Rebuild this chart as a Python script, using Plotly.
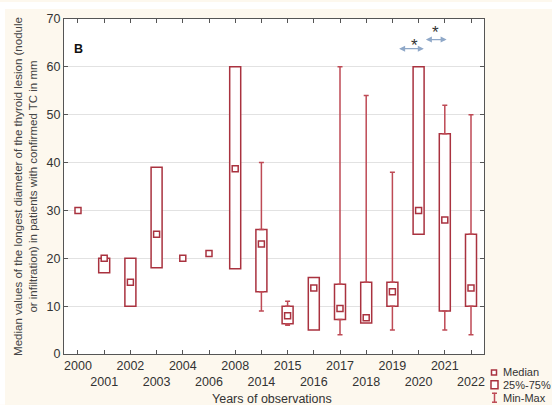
import plotly.graph_objects as go

# Years of observation (categories along the x axis)
years = ["2000", "2001", "2002", "2003", "2004", "2006", "2008", "2014",
         "2015", "2016", "2017", "2018", "2019", "2020", "2021", "2022"]

# Longest lesion diameter in mm per year
median = [30, 20, 15, 25, 20, 21, 38.7, 23, 8, 13.8, 9.5, 7.6, 13, 30, 28, 13.8]
q1 = [None, 17, 10, 18, None, None, 17.8, 13, 6.3, 5, 7.2, 6.5, 10, 25, 9, 10]
q3 = [None, 20, 20, 39, None, None, 60, 26, 10, 16, 14.6, 15, 15, 60, 46, 25]
vmin = [None, 17, 10, 18, None, None, 17.8, 9, 6, 5, 4, 6.5, 5, 25, 5, 4]
vmax = [None, 20, 20, 39, None, None, 60, 40, 11, 16, 60, 54, 38, 60, 52, 50]

y_ticks = [0, 10, 20, 30, 40, 50, 60, 70]

BOX_RED = "#A9323F"
WHISK_RED = "#BE4A55"
FONT = "Arial, Liberation Sans, sans-serif"

idx = list(range(len(years)))

# Interquartile boxes
box_h = [None if a is None else b - a for a, b in zip(q1, q3)]

# Whiskers: upper from Q3 to max, lower from Q1 to min
up_y, up_e, lo_y, lo_e = [], [], [], []
for a, b, lo, hi in zip(q1, q3, vmin, vmax):
    if b is not None and hi > b:
        up_y.append(b); up_e.append(hi - b)
    else:
        up_y.append(None); up_e.append(0)
    if a is not None and lo < a:
        lo_y.append(a); lo_e.append(a - lo)
    else:
        lo_y.append(None); lo_e.append(0)

fig = go.Figure()

fig.add_trace(go.Bar(
    x=idx, y=box_h, base=q1, width=0.42,
    marker=dict(color="white", line=dict(color=BOX_RED, width=1.5)),
    showlegend=False, hoverinfo="skip",
))

fig.add_trace(go.Scatter(
    x=idx, y=up_y, mode="markers", marker=dict(opacity=0, size=1),
    error_y=dict(type="data", symmetric=False, array=up_e,
                 arrayminus=[0] * len(idx), color=WHISK_RED,
                 thickness=1.5, width=2.5),
    showlegend=False, hoverinfo="skip",
))
fig.add_trace(go.Scatter(
    x=idx, y=lo_y, mode="markers", marker=dict(opacity=0, size=1),
    error_y=dict(type="data", symmetric=False, array=[0] * len(idx),
                 arrayminus=lo_e, color=WHISK_RED,
                 thickness=1.5, width=2.5),
    showlegend=False, hoverinfo="skip",
))

fig.add_trace(go.Scatter(
    x=idx, y=median, mode="markers",
    marker=dict(symbol="square", size=6, color="white",
                line=dict(color=BOX_RED, width=1.5)),
    showlegend=False,
))

# Alternate tick labels between two rows
tick_text = [y if i % 2 == 0 else "<br>" + y for i, y in enumerate(years)]

W, H = 552, 405
L, R, T, B = 64, 68, 17, 51
pw, ph = W - L - R, H - T - B


def px(x):
    return (x - L) / pw


def py(y):
    return (H - B - y) / ph


shapes = [
    # thin white margin at the outer top and left edges
    dict(type="rect", xref="paper", yref="paper", x0=px(0), x1=px(5),
         y0=py(H), y1=py(0), fillcolor="white", line=dict(width=0), layer="below"),
    dict(type="rect", xref="paper", yref="paper", x0=px(0), x1=px(W),
         y0=py(7), y1=py(0), fillcolor="white", line=dict(width=0), layer="below"),
    # legend symbols
    dict(type="rect", xref="paper", yref="paper", x0=px(491.5), x1=px(496.5),
         y0=py(375.2), y1=py(370.2), fillcolor="white",
         line=dict(color=BOX_RED, width=1.5)),
    dict(type="rect", xref="paper", yref="paper", x0=px(491), x1=px(498),
         y0=py(389), y1=py(381), fillcolor="white",
         line=dict(color=BOX_RED, width=1.5)),
    dict(type="line", xref="paper", yref="paper", x0=px(494.5), x1=px(494.5),
         y0=py(403), y1=py(393), line=dict(color=WHISK_RED, width=1.5)),
    dict(type="line", xref="paper", yref="paper", x0=px(492), x1=px(497),
         y0=py(393.5), y1=py(393.5), line=dict(color=WHISK_RED, width=1.5)),
    dict(type="line", xref="paper", yref="paper", x0=px(492), x1=px(497),
         y0=py(402.5), y1=py(402.5), line=dict(color=WHISK_RED, width=1.5)),
]

annotations = [
    dict(text="<b>B</b>", xref="paper", yref="paper", x=px(71.5), y=py(47),
         xanchor="left", yanchor="middle", showarrow=False,
         font=dict(size=12.5, color="#111", family=FONT)),
    dict(text="Years of observations", xref="paper", yref="paper",
         x=px(272), y=py(399), xanchor="center", yanchor="middle",
         showarrow=False, font=dict(size=12.5, color="#333", family=FONT)),
    dict(text="Median", xref="paper", yref="paper", x=px(501), y=py(372.5),
         xanchor="left", yanchor="middle", showarrow=False,
         font=dict(size=11, color="#333", family=FONT)),
    dict(text="25%-75%", xref="paper", yref="paper", x=px(501), y=py(385.5),
         xanchor="left", yanchor="middle", showarrow=False,
         font=dict(size=11, color="#333", family=FONT)),
    dict(text="Min-Max", xref="paper", yref="paper", x=px(501), y=py(398.5),
         xanchor="left", yanchor="middle", showarrow=False,
         font=dict(size=11, color="#333", family=FONT)),
    # significance markers between 2019-2020 and 2020-2021
    dict(x=13.2, y=63.8, ax=12.2, ay=63.8, xref="x", yref="y", axref="x", ayref="y",
         text="", showarrow=True, arrowhead=2, startarrowhead=2,
         arrowside="end+start", arrowsize=1, arrowwidth=1.2,
         arrowcolor="#8FA8C8", standoff=0, startstandoff=0),
    dict(x=14.07, y=65.7, ax=13.22, ay=65.7, xref="x", yref="y", axref="x", ayref="y",
         text="", showarrow=True, arrowhead=2, startarrowhead=2,
         arrowside="end+start", arrowsize=1, arrowwidth=1.2,
         arrowcolor="#8FA8C8", standoff=0, startstandoff=0),
    dict(text="*", x=12.85, y=64.4, xref="x", yref="y", showarrow=False,
         font=dict(size=17, color="#333", family=FONT)),
    dict(text="*", x=13.65, y=67.1, xref="x", yref="y", showarrow=False,
         font=dict(size=17, color="#333", family=FONT)),
]

fig.update_layout(
    width=W, height=H,
    margin=dict(l=L, r=R, t=T, b=B, pad=0),
    paper_bgcolor="#FDF8EE",
    plot_bgcolor="white",
    font=dict(family=FONT, size=12, color="#333"),
    barmode="overlay",
    shapes=shapes,
    annotations=annotations,
    xaxis=dict(
        range=[-0.534, 15.496], tickvals=idx, ticktext=tick_text,
        tickangle=0,
        showgrid=False, zeroline=False,
        showline=True, linecolor="#555", linewidth=1.2, mirror="ticks",
        ticks="inside", ticklen=4, tickcolor="#555",
        tickfont=dict(size=12.5, color="#333"),
    ),
    yaxis=dict(
        range=[0, 70], tickvals=y_ticks,
        showgrid=True, gridcolor="#E2E2E2", gridwidth=1, zeroline=False,
        showline=True, linecolor="#555", linewidth=1.2, mirror="ticks",
        ticks="inside", ticklen=4, tickcolor="#555",
        tickfont=dict(size=12.5, color="#333"),
        title=dict(
            text="Median values of the longest diameter of the thyroid lesion (nodule"
                 "<br>or infiltration) in patients with confirmed TC in mm",
            font=dict(size=11.5, color="#444"), standoff=6,
        ),
    ),
)

fig.write_html("out.html")
